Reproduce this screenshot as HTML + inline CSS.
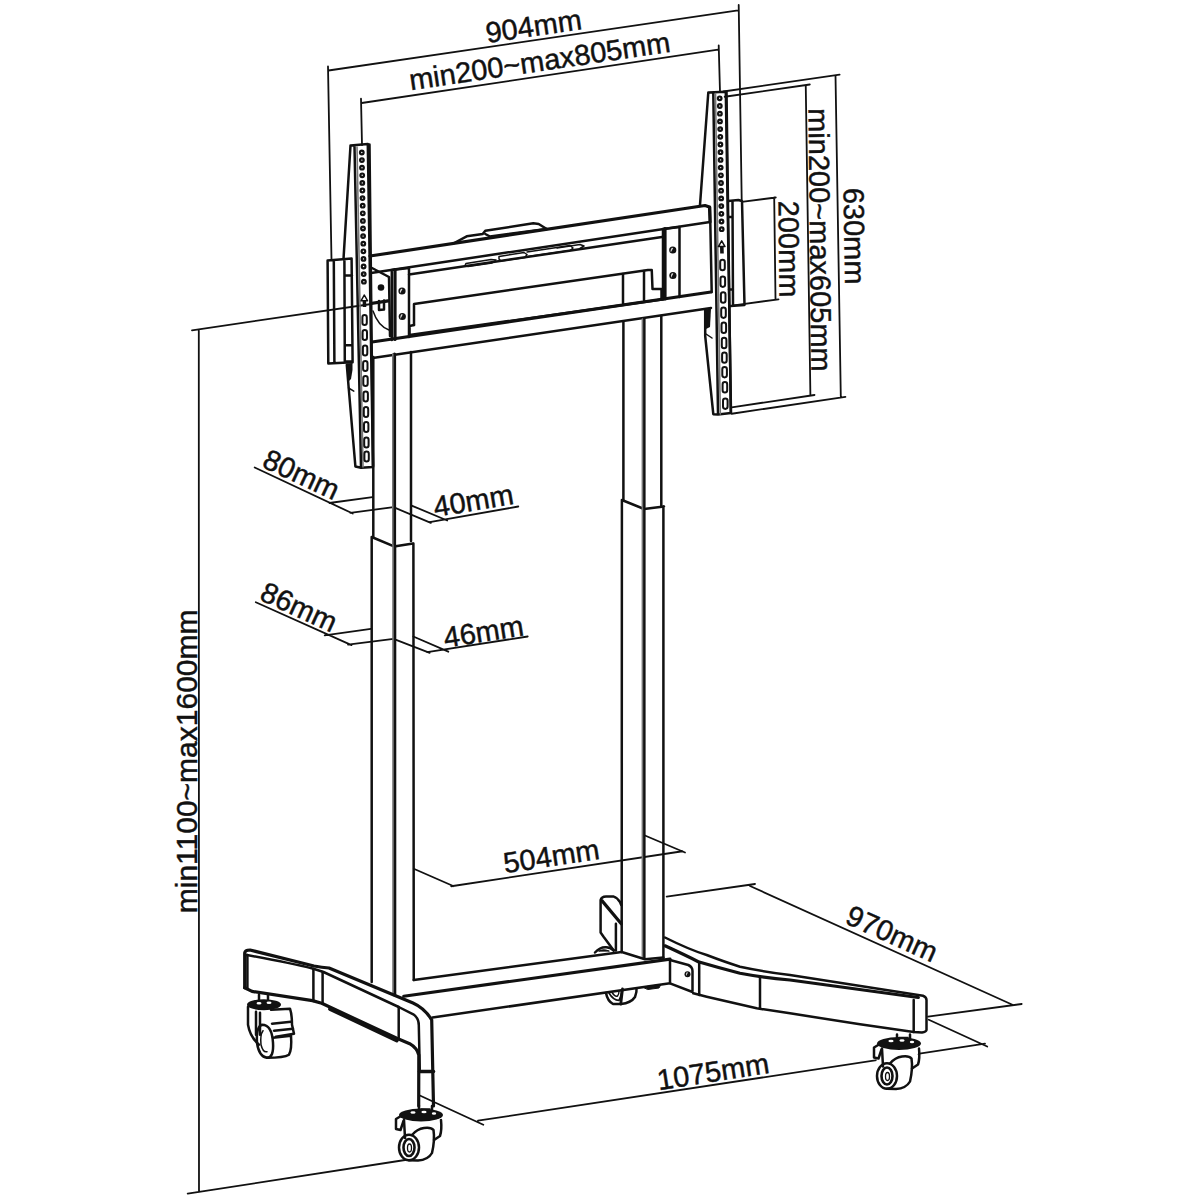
<!DOCTYPE html>
<html><head><meta charset="utf-8">
<style>
html,body{margin:0;padding:0;background:#fff;width:1200px;height:1200px;overflow:hidden}
svg{display:block}
text{font-family:"Liberation Sans",sans-serif;fill:#111;font-size:29px;stroke:#111;stroke-width:0.45}
.d{fill:none;stroke:#111;stroke-width:1.8;stroke-linecap:round;stroke-linejoin:round}
.o{fill:none;stroke:#111;stroke-width:2.5;stroke-linecap:round;stroke-linejoin:round}
.k{fill:none;stroke:#111;stroke-width:3.2;stroke-linecap:round;stroke-linejoin:round}
.t{fill:none;stroke:#111;stroke-width:1.5;stroke-linecap:round;stroke-linejoin:round}
.g{fill:none;stroke:#777;stroke-width:1.6;stroke-linecap:round}
.f{fill:#111;stroke:none}
.w{fill:#fff;stroke:none}
</style></head><body>
<svg width="1200" height="1200" viewBox="0 0 1200 1200">
<rect width="1200" height="1200" fill="#fff"/>
<g class="d">
<path d="M328.5,70.5 L738,10.3 M328,66.5 L331.5,260 M738.7,5 L741.7,200"/>
<path d="M361.7,103 L718,49.7 M361,98.7 L362,145 M718.7,45.3 L720,92"/>
<path d="M723.5,91.5 L839.6,74.6 M835.5,75.5 L840.8,397 M731.7,413.75 L845.4,396.8"/>
<path d="M724.7,96.75 L809.8,84.5 M805.75,85.5 L810.4,395 M731.7,407.3 L814.5,395"/>
<path d="M741.7,201.8 L775.8,197.5 M774.2,197.5 L775.5,299.3 M734,305.3 L778.5,299.3"/>
<path d="M192,330.3 L388.5,301.5 M198.8,330 L199,1191 M187.7,1193.7 L408.3,1159.5"/>
<path d="M254.7,467.5 L352.7,513.5 M329.3,503 L372.5,497.2 M350.3,512.8 L393.5,507.2 L430.8,522.8"/>
<path d="M429.7,522.1 L518.3,506.5 M411,505.3 L447.2,520.5"/>
<path d="M255.8,602.2 L351.5,645.1 M324.7,635.3 L370.9,628.8 M348,644.7 L393.5,638.8 L429.7,652.8"/>
<path d="M427.3,652.1 L527.7,636.5 M413.3,636.5 L448.3,651.7"/>
<path d="M413.75,868.75 L453.75,886.25 M451.25,886.25 L682.5,851.25 M643.75,835 L685,852.5"/>
<path d="M666.7,896.7 L755,884 M750,886 L1013,1005 M928,1016.7 L1021.7,1004"/>
<path d="M419.3,1095.3 L483.3,1124.7 M478,1120.7 L985,1043.7 M928.8,1019.7 L987.2,1046.5"/>
</g>
<g transform="translate(535,36) rotate(-8.3)"><text text-anchor="middle">904mm</text></g>
<g transform="translate(541,71) rotate(-8.4)"><text text-anchor="middle">min200~max805mm</text></g>
<g transform="translate(844.3,236.3) rotate(89.1)"><text text-anchor="middle">630mm</text></g>
<g transform="translate(810,240) rotate(89.4)"><text text-anchor="middle">min200~max605mm</text></g>
<g transform="translate(779,249.2) rotate(89.3)"><text text-anchor="middle">200mm</text></g>
<g transform="translate(197,761.4) rotate(-90)"><text text-anchor="middle" style="font-size:30px">min1100~max1600mm</text></g>
<g transform="translate(297.2,483.5) rotate(24.9)"><text text-anchor="middle">80mm</text></g>
<g transform="translate(475,510.4) rotate(-9.6)"><text text-anchor="middle">40mm</text></g>
<g transform="translate(294.9,616) rotate(24.6)"><text text-anchor="middle">86mm</text></g>
<g transform="translate(485,641.5) rotate(-9)"><text text-anchor="middle">46mm</text></g>
<g transform="translate(552.9,866.1) rotate(-8.65)"><text text-anchor="middle">504mm</text></g>
<g transform="translate(887.9,942.7) rotate(24.3)"><text text-anchor="middle">970mm</text></g>
<g transform="translate(714.5,1081.5) rotate(-8.8)"><text text-anchor="middle">1075mm</text></g>
<g class="o">
<!-- top beam -->
<path d="M370,256 L705,205.5 L709.5,207 L710,222" class="k"/>
<path d="M453.3,243.5 L466.7,236.3 L482.7,234 M482.7,234 L485.3,230.7 L533.3,223.3 L538.7,224 L546.7,229" />
<path d="M485.3,234 L490,236.5 L546.7,229"/>
<path d="M371,273 L710,222"/>
<path d="M409,274.5 L662,237"/>
<!-- inner panel -->
<path d="M414,325 L414,304 L648,270 L651.75,270 L652.5,289 L661.5,289 L661.5,299"/>
<path d="M414,325 L409.5,326 L409.5,334"/>
<!-- lower beam -->
<path d="M372,342 L711,292" class="k"/>
<path d="M409.5,335 L662,299.5"/>
<path d="M372.7,358 L711,308"/>
<!-- left vertical plates -->
<path d="M391.8,270 L391.8,340 M409,268 L409,337 M391.8,270 L409,268"/>
<!-- right vertical plates -->
<path d="M663,229 L663,299.5 M679.5,227 L679.5,297 M663,229 L679.5,227"/>
<!-- small triangle bracket -->
<path d="M372,268 L389,277 L390,336"/>
<path d="M372,303 L388,300.5"/>
<path d="M379,301 L379,310 L384,309.5 L384,300.5"/>
</g>
<path class="k" d="M395,269.5 L395,339.5 M665,228.5 L665,299"/>
<path class="t" d="M373,311 Q378,326 389,330"/>
<circle class="f" cx="381" cy="287.5" r="3.3"/>
<g class="f">
<circle cx="402" cy="291" r="3.6"/>
<circle cx="402.3" cy="316.5" r="3.6"/>
<circle cx="672.75" cy="250" r="3.6"/>
<circle cx="672.9" cy="275.5" r="3.6"/>
</g>
<g fill="#ddd">
<path d="M400,293.5 L402.5,289 L401,288.8 Q399.5,290.5 400,293.5 Z"/>
<path d="M400.3,319 L402.8,314.5 L401.3,314.3 Q399.8,316 400.3,319 Z"/>
<path d="M670.75,252.5 L673.25,248 L671.75,247.8 Q670.25,249.5 670.75,252.5 Z"/>
<path d="M670.9,278 L673.4,273.5 L671.9,273.3 Q670.4,275 670.9,278 Z"/>
</g>
<g class="t">
<path d="M466,263.5 L491,259.5 L496,260 L492,263 L468,266.5 Q464,266 466,263.5 Z"/>
<path d="M499,256.5 L524,252.5 L527,254.5 L525,257.5 L501,261 L499,259 Z"/>
<path d="M527,252 L570,245.5 L573,248 L570,250.5 L528,256.5"/>
<path d="M557,248 L580,244.5 L584,246 L580,248.5"/>
</g>
<g class="o">
<path d="M623,274 L623,303 M644,271 L644,300"/>
</g>
<g class="o">
<!-- left wall plate -->
<path d="M327.6,260.5 L351.6,258.6 L352.6,362.3 L328.3,363.5 Z M333.8,260 L334.4,363 M344.4,259 L344.8,362.5 M344.6,275.5 L352,275.3 M344.8,345.3 L352.4,345 M344.8,361.6 L352.5,361.4"/>
<!-- left bracket -->
<path d="M350.5,145.5 L367.8,144 L373,467 L361,467.8 L355.4,466.5 L348.7,388 L346.8,365 M350.5,145.5 L343.5,259 M354.5,146.5 L361,467"/>
<!-- right wall plate -->
<path d="M728.3,201 L738.3,200 L742,201 L744.5,305 L730.5,306 M732.5,202 L733,305.5 M728.5,217 L732.5,217 M729,289.5 L733,289.5"/>
<!-- right bracket -->
<path d="M708.3,92.5 L725.8,91.7 L731,413 L718,414.5 L713.3,414.2 L705.2,336 L705.2,310.3 M708.3,92.5 L700,205 M710,207 L711.7,292 M713.3,93.3 L718,414"/>
</g>
<path class="o" d="M369.5,144.5 L373,466" stroke-width="2.8"/>
<path class="o" d="M726.5,92 L730.8,412" stroke-width="2.6"/>
<g class="g">
<path d="M357,147 L363,467"/>
<path d="M715.5,93.5 L720.3,414"/>
</g>
<!-- dark hatches under wall plates -->
<path class="f" d="M346.5,363.5 L352.5,363 L352.5,370 L351,379 L348,382 Z"/>
<path class="t" d="M348.5,388 L353.8,391.2" stroke-width="2"/>
<path class="f" d="M705.5,309.5 L711,308.5 L710,327 L706,329 Z"/>
<path class="t" d="M706,334 L712,338"/>
<g fill="none" stroke="#111" stroke-width="1.4"><circle cx="361.8" cy="152.5" r="2.2" fill="#111"/><circle cx="361.8" cy="152.5" r="0.7" fill="#fff" stroke="none"/><circle cx="361.9" cy="160.1" r="2.2" fill="#111"/><circle cx="361.9" cy="160.1" r="0.7" fill="#fff" stroke="none"/><circle cx="362.0" cy="167.7" r="2.2" fill="#111"/><circle cx="362.0" cy="167.7" r="0.7" fill="#fff" stroke="none"/><circle cx="362.2" cy="175.3" r="2.2" fill="#111"/><circle cx="362.2" cy="175.3" r="0.7" fill="#fff" stroke="none"/><circle cx="362.3" cy="182.9" r="2.2" fill="#111"/><circle cx="362.3" cy="182.9" r="0.7" fill="#fff" stroke="none"/><circle cx="362.4" cy="190.5" r="2.2" fill="#111"/><circle cx="362.4" cy="190.5" r="0.7" fill="#fff" stroke="none"/><circle cx="362.5" cy="198.1" r="2.2" fill="#111"/><circle cx="362.5" cy="198.1" r="0.7" fill="#fff" stroke="none"/><circle cx="362.7" cy="205.7" r="2.2" fill="#111"/><circle cx="362.7" cy="205.7" r="0.7" fill="#fff" stroke="none"/><circle cx="362.8" cy="213.3" r="2.2" fill="#111"/><circle cx="362.8" cy="213.3" r="0.7" fill="#fff" stroke="none"/><circle cx="362.9" cy="220.9" r="2.2" fill="#111"/><circle cx="362.9" cy="220.9" r="0.7" fill="#fff" stroke="none"/><circle cx="363.0" cy="228.5" r="2.2" fill="#111"/><circle cx="363.0" cy="228.5" r="0.7" fill="#fff" stroke="none"/><circle cx="363.1" cy="236.1" r="2.2" fill="#111"/><circle cx="363.1" cy="236.1" r="0.7" fill="#fff" stroke="none"/><circle cx="363.3" cy="243.7" r="2.2" fill="#111"/><circle cx="363.3" cy="243.7" r="0.7" fill="#fff" stroke="none"/><circle cx="363.4" cy="251.3" r="2.2" fill="#111"/><circle cx="363.4" cy="251.3" r="0.7" fill="#fff" stroke="none"/><circle cx="363.5" cy="258.9" r="2.2" fill="#111"/><circle cx="363.5" cy="258.9" r="0.7" fill="#fff" stroke="none"/><circle cx="363.6" cy="266.5" r="2.2" fill="#111"/><circle cx="363.6" cy="266.5" r="0.7" fill="#fff" stroke="none"/><circle cx="363.7" cy="274.1" r="2.2" fill="#111"/><circle cx="363.7" cy="274.1" r="0.7" fill="#fff" stroke="none"/><circle cx="363.9" cy="281.7" r="2.2" fill="#111"/><circle cx="363.9" cy="281.7" r="0.7" fill="#fff" stroke="none"/><rect x="362.4" y="315.0" width="4.4" height="10" rx="2.2" stroke-width="2"/><rect x="362.6" y="330.0" width="4.4" height="10" rx="2.2" stroke-width="2"/><rect x="362.9" y="345.5" width="4.4" height="10" rx="2.2" stroke-width="2"/><rect x="363.1" y="361.0" width="4.4" height="10" rx="2.2" stroke-width="2"/><rect x="363.3" y="376.0" width="4.4" height="10" rx="2.2" stroke-width="2"/><rect x="363.5" y="391.5" width="4.4" height="10" rx="2.2" stroke-width="2"/><rect x="363.8" y="407.0" width="4.4" height="10" rx="2.2" stroke-width="2"/><rect x="364.0" y="422.0" width="4.4" height="10" rx="2.2" stroke-width="2"/><rect x="364.2" y="437.5" width="4.4" height="10" rx="2.2" stroke-width="2"/><rect x="364.4" y="451.5" width="4.4" height="10" rx="2.2" stroke-width="2"/><circle cx="719.7" cy="98.3" r="2.2" fill="#111"/><circle cx="719.7" cy="98.3" r="0.7" fill="#fff" stroke="none"/><circle cx="719.8" cy="106.0" r="2.2" fill="#111"/><circle cx="719.8" cy="106.0" r="0.7" fill="#fff" stroke="none"/><circle cx="719.9" cy="113.7" r="2.2" fill="#111"/><circle cx="719.9" cy="113.7" r="0.7" fill="#fff" stroke="none"/><circle cx="720.0" cy="121.4" r="2.2" fill="#111"/><circle cx="720.0" cy="121.4" r="0.7" fill="#fff" stroke="none"/><circle cx="720.2" cy="129.1" r="2.2" fill="#111"/><circle cx="720.2" cy="129.1" r="0.7" fill="#fff" stroke="none"/><circle cx="720.3" cy="136.8" r="2.2" fill="#111"/><circle cx="720.3" cy="136.8" r="0.7" fill="#fff" stroke="none"/><circle cx="720.4" cy="144.5" r="2.2" fill="#111"/><circle cx="720.4" cy="144.5" r="0.7" fill="#fff" stroke="none"/><circle cx="720.5" cy="152.2" r="2.2" fill="#111"/><circle cx="720.5" cy="152.2" r="0.7" fill="#fff" stroke="none"/><circle cx="720.6" cy="159.9" r="2.2" fill="#111"/><circle cx="720.6" cy="159.9" r="0.7" fill="#fff" stroke="none"/><circle cx="720.7" cy="167.6" r="2.2" fill="#111"/><circle cx="720.7" cy="167.6" r="0.7" fill="#fff" stroke="none"/><circle cx="720.9" cy="175.3" r="2.2" fill="#111"/><circle cx="720.9" cy="175.3" r="0.7" fill="#fff" stroke="none"/><circle cx="721.0" cy="183.0" r="2.2" fill="#111"/><circle cx="721.0" cy="183.0" r="0.7" fill="#fff" stroke="none"/><circle cx="721.1" cy="190.7" r="2.2" fill="#111"/><circle cx="721.1" cy="190.7" r="0.7" fill="#fff" stroke="none"/><circle cx="721.2" cy="198.4" r="2.2" fill="#111"/><circle cx="721.2" cy="198.4" r="0.7" fill="#fff" stroke="none"/><circle cx="721.3" cy="206.1" r="2.2" fill="#111"/><circle cx="721.3" cy="206.1" r="0.7" fill="#fff" stroke="none"/><circle cx="721.4" cy="213.8" r="2.2" fill="#111"/><circle cx="721.4" cy="213.8" r="0.7" fill="#fff" stroke="none"/><circle cx="721.5" cy="221.5" r="2.2" fill="#111"/><circle cx="721.5" cy="221.5" r="0.7" fill="#fff" stroke="none"/><circle cx="721.7" cy="229.2" r="2.2" fill="#111"/><circle cx="721.7" cy="229.2" r="0.7" fill="#fff" stroke="none"/><rect x="720.2" y="259.8" width="4.6" height="10.4" rx="2.3" stroke-width="2"/><rect x="720.5" y="276.5" width="4.6" height="10.4" rx="2.3" stroke-width="2"/><rect x="720.9" y="292.3" width="4.6" height="10.4" rx="2.3" stroke-width="2"/><rect x="721.2" y="307.5" width="4.6" height="10.4" rx="2.3" stroke-width="2"/><rect x="721.5" y="322.6" width="4.6" height="10.4" rx="2.3" stroke-width="2"/><rect x="721.8" y="337.8" width="4.6" height="10.4" rx="2.3" stroke-width="2"/><rect x="722.1" y="352.4" width="4.6" height="10.4" rx="2.3" stroke-width="2"/><rect x="722.3" y="367.0" width="4.6" height="10.4" rx="2.3" stroke-width="2"/><rect x="722.6" y="382.1" width="4.6" height="10.4" rx="2.3" stroke-width="2"/><rect x="723.0" y="398.5" width="4.6" height="10.4" rx="2.3" stroke-width="2"/></g>
<g class="t" fill="none" stroke-width="1.8">
<path d="M364.3,295 L361,300.8 L367.6,300.8 Z"/>
<path d="M721.7,240.8 L718.4,246.6 L725,246.6 Z"/>
</g>
<path class="f" d="M362.6,300.5 L366.1,300.5 L366.3,307 L362.8,307 Z M720,246.5 L723.6,246.5 L723.8,253.5 L720.2,253.5 Z"/>
<g class="o">
<!-- left upper -->
<path d="M411,352 L411,541"/>
<path d="M373.3,357 L373.3,537"/>
<!-- left lower -->
<path d="M371.7,537 L394,546.4 L413,543.4 M371.7,537 L371.7,982 M413.4,543.4 L413.75,980"/>
<!-- right upper -->
<path d="M623.4,322 L623.4,500 M661.3,316 L661.3,506"/>
<!-- right lower -->
<path d="M621.9,500 L644,509 L664,506.5 M621.9,500 L621.7,952 M663.4,506.5 L663.4,958"/>
</g>
<g class="k">
<path d="M394.5,354 L394.5,545 M394.7,545 L394.7,995"/>
<path d="M644,319 L644,507 M644,507.5 L644,958"/>
</g>
<g class="g">
<path d="M392.8,354 L392.8,545 M393,545 L393,995"/>
<path d="M642.4,319 L642.4,507 M642.4,507.5 L642.4,958"/>
</g>
<g class="o">
<!-- bottom crossbar -->
<path d="M413.75,980 L621.7,952"/>
<path d="M621.7,952 L645,959.2 L663.4,957.5"/>
<path d="M403.75,996.25 L670,959.2" class="k"/>
<path d="M670,959.2 L670,983.3 L432.5,1017.5"/>
<!-- left foot -->
<path d="M244.7,987.75 L244.7,953 Q245,950 250,950 Q290,960 314,966 Q322,967.3 329,968 L413,1003 Q424.3,1008 431.7,1019.8 L433.5,1106" class="k"/>
<path d="M245.6,954.75 Q290,963 312.5,968.5 L323.5,972 L398.7,1007 L413.3,1014.3 Q418.8,1018 418.8,1025.3 L419.75,1069.3"/>
<path d="M244.7,987.75 L252,991.4 L312.5,1000.6 L321.7,1003.3 L396.8,1038.2 L409.7,1043.7 Q417,1048 418.8,1055 L418.7,1106" class="k"/>
<path d="M247.4,955 L247.4,988 M313.4,969 L313.4,1001 M322.6,972 L322.6,1003.5 M398.7,1007 L398.7,1039"/>
<path d="M330,1009 L396.8,1040.5" stroke-width="3.8"/>
<path d="M419.5,1071.5 L433.5,1071.5" stroke-width="3.5"/>
<!-- right foot -->
<path d="M665,937.5 Q690,950 706.7,955 Q725,962 740,966.7 Q765,972 790,975 L923,995.75 Q926.5,997 926.5,1000 L926.5,1030 Q926,1032 922,1032.5 L913.7,1032 L860,1024.3 L790,1013.3 L756.7,1008.3 L706.7,996.7 L693.3,993.3"/>
<path d="M665,945.8 Q685,955 698.3,961.7 Q720,968 740,973.3 Q765,978 790,980 L918.3,997.5" class="k"/>
<path d="M913.7,1000 L913.7,1032"/>
<path d="M670,960 L688.3,965 Q692.5,967 692.5,971 L692.5,990.8 M670,983.3 L692.5,992"/>
<path d="M699.2,962 L699.2,995 M760,977 L760,1008.3"/>
<!-- stopper -->
<path d="M600.6,900 Q601.5,896.7 606,896.6 L613.75,896.6 Q617,897.5 620,902 L621.2,905 M600.6,900 L600.6,932.5 L603.75,937 L613.75,950.6 M615.9,923.75 L615.9,950.6"/>
<path d="M601.9,900.6 L621.25,923.75" class="k" stroke-width="3.6"/>
</g>
<circle cx="687.5" cy="974.2" r="3" fill="#111"/>
<path d="M686,976 L688,972.5 L686.8,972.3 Q685.5,973.8 686,976 Z" fill="#ddd"/>
<defs>
<g id="casterA">
  <path class="o" d="M-2,-9 L-2,-3 M11,-9 L11,-3" stroke-width="1.8"/>
  <path class="t" d="M0,-6 L9,-6"/>
  <path d="M-22,6 L-23,30 Q-18,47 -10,46 L5,45.5 Q14,40 14,25 L20,7 Z" fill="#fff" stroke="none"/>
  <ellipse cx="0" cy="0" rx="22" ry="6.5" fill="#111"/>
  <ellipse cx="-8" cy="-2.5" rx="2.6" ry="1.3" fill="#fff"/>
  <ellipse cx="3" cy="-3" rx="2.6" ry="1.3" fill="#fff"/>
  <ellipse cx="13" cy="-1.5" rx="2.2" ry="1.2" fill="#fff"/>
  <g class="o" stroke-width="2.2">
   <path d="M-20,1 L-25,4 L-25,14 L-20.5,15 L-17.5,6"/>
   <path d="M-17,5 L-16,23"/>
   <path d="M20,5 Q21,15 19,21 L13,25"/>
   <ellipse cx="-12" cy="32.5" rx="10" ry="12.8"/>
   <path d="M-9,20 Q-4,14 3,13 Q10,12 12.5,15 Q14,25 11,38 Q7,45 -3,45.5 L-12,45.3"/>
  </g>
  <ellipse cx="-12" cy="32.5" rx="5.5" ry="8.5" fill="none" stroke="#111" stroke-width="2.6"/>
  <ellipse cx="-11.5" cy="33" rx="2" ry="4" fill="none" stroke="#111" stroke-width="1.3"/>
</g>
<g id="casterB">
  <path class="o" d="M-5,-10 L-5,-5 M4,-10 L4,-5" stroke-width="1.8"/>
  <path d="M-16,6 L-16,20 Q-14,32 -6,40 L10,52 Q20,55 26,50 Q30,40 30,30 L28,10 Z" fill="#fff" stroke="none"/>
  <ellipse cx="0" cy="0" rx="17" ry="5.5" fill="#111"/>
  <ellipse cx="-5" cy="-1.5" rx="2.5" ry="1.3" fill="#fff"/>
  <ellipse cx="5" cy="-2" rx="2.5" ry="1.3" fill="#fff"/>
  <g class="o" stroke-width="2.2">
   <path d="M-16,2 L-16,20 Q-14,32 -5,40"/>
   <path d="M-8,7 L-8,30 M-4,8 L-4,30"/>
   <path d="M7,5 L26,4 Q28,10 28,20 L30,29 L12,32"/>
   <path d="M8,19 L27,17 M10,26 L29,24"/>
   <path d="M-2,20 Q-8,22 -7,38 Q-5,52 3,53 Q10,53 9,38 Q8,20 -2,20 Z"/>
   <path d="M9,33 L27,31 Q28,45 25,50 Q20,53 3,53"/>
  </g>
  <path class="t" d="M-1,26 Q-4,30 -3,40 Q-1,48 3,47"/>
</g>
</defs>
<use href="#casterA" transform="translate(421,1115)"/>
<use href="#casterA" transform="translate(899,1043.5)"/>
<use href="#casterB" transform="translate(264,1004.7)"/>
<g class="o" stroke-width="2.2">
<path d="M606,993 Q607.5,1001 613,1004 L621,1004 Q631,1003 635,997 Q637,992 636.5,988.5"/>
<path d="M622.5,989 L620.75,1004" stroke-width="2.8"/>
<path d="M609,993 Q613,1000 619,1000.5 Q621,997 621.5,991" stroke-width="1.6"/>
<path d="M612,992.5 Q615,997 617.5,996 Q619,994 619,991.5" stroke-width="1.4"/>
<path d="M643,987 L661,984.5 L659,988 L648,989.5 Z" fill="#111" stroke-width="1"/>
<path d="M595,952.5 Q600,947 605.6,947.2 Q610,947 613.75,950.5"/>
<path d="M599,951 Q603,949 606,950 L609,951 Z" fill="#111" stroke-width="1"/>
</g>
</svg>
</body></html>
